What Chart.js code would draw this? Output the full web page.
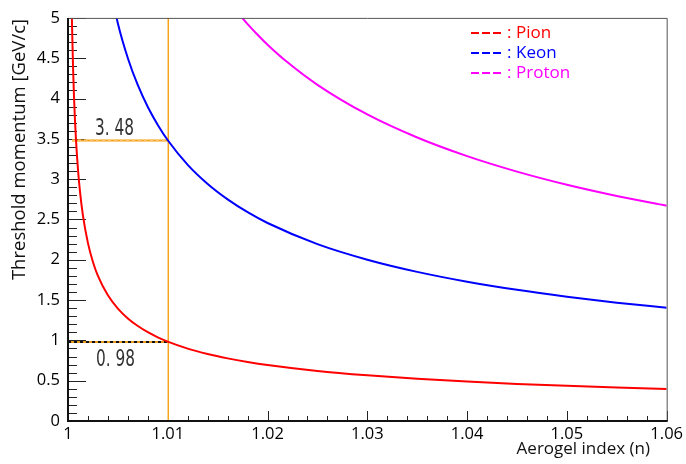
<!DOCTYPE html>
<html>
<head>
<meta charset="utf-8">
<script src="https://cdn.jsdelivr.net/npm/chart.js@4.4.1/dist/chart.umd.min.js"></script>
<style>
html,body{margin:0;padding:0;background:#fff;}
#wrap{width:686px;height:464px;}
</style>
</head>
<body>
<div id="wrap"><canvas id="c" width="686" height="464"></canvas></div>
<script>
// ---- data ----
const pionN = [1.0003,1.0004,1.0005,1.0006,1.0007,1.0008,1.001,1.0012,1.0015,1.002,1.0025,1.003,1.004,1.005,1.006,1.007,1.008,1.009,1.01,1.012,1.014,1.016,1.018,1.02,1.025,1.03,1.035,1.04,1.045,1.05,1.055,1.06];
const pionP = [5.697,4.934,4.413,4.028,3.730,3.489,3.120,2.848,2.547,2.206,1.973,1.800,1.559,1.394,1.272,1.178,1.101,1.038,0.985,0.898,0.831,0.777,0.732,0.694,0.620,0.566,0.523,0.489,0.460,0.436,0.415,0.397];
const keonN = [1.004,1.005,1.006,1.007,1.008,1.009,1.01,1.012,1.014,1.016,1.018,1.02,1.025,1.03,1.035,1.04,1.045,1.05,1.055,1.06];
const keonP = [5.514,4.931,4.500,4.165,3.895,3.672,3.482,3.177,2.940,2.749,2.590,2.456,2.194,2.001,1.850,1.728,1.627,1.542,1.468,1.404];
const protonN = [1.017,1.018,1.019,1.02,1.022,1.025,1.03,1.035,1.04,1.045,1.05,1.055,1.06];
const protonP = [5.067,4.923,4.791,4.668,4.449,4.170,3.802,3.516,3.285,3.093,2.930,2.791,2.669];
const seriesNames = ['Pion','Keon','Proton'];
const xTickLabels = ['1','1.01','1.02','1.03','1.04','1.05','1.06'];
const yTickLabels = ['0','0.5','1','1.5','2','2.5','3','3.5','4','4.5','5'];
const markerIndex = 1.01;
const markerValues = [3.48, 0.98];
const markerLabels = ['3. 48', '0. 98'];
const xTitle = 'Aerogel index (n)';
const yTitle = 'Threshold momentum [GeV/c]';

const colors = ['#ff0000','#0000ff','#ff00ff'];
const FONT = '"Open Sans", "Noto Sans", sans-serif';

function pts(nx, py){ return nx.map((v,i)=>({x:v, y:py[i]})); }

const decor = {
  id:'decor',
  beforeDatasetsDraw(chart){
    const {ctx, chartArea:a, scales:{x,y}} = chart;
    ctx.save();
    // inside ticks
    ctx.strokeStyle = '#222'; ctx.lineWidth = 1;
    for(let i=0;i<=50;i++){
      const py = Math.round(y.getPixelForValue(i/10)) + 0.5;
      const len = (i%5===0) ? 18 : 9;
      ctx.beginPath(); ctx.moveTo(a.left, py); ctx.lineTo(a.left+len, py); ctx.stroke();
    }
    for(let i=0;i<=30;i++){
      const px = Math.round(x.getPixelForValue(1 + i*0.002)) + 0.5;
      const len = (i%5===0) ? 10 : 5;
      ctx.beginPath(); ctx.moveTo(px, a.bottom); ctx.lineTo(px, a.bottom-len); ctx.stroke();
    }
    // orange guide lines
    const gx = x.getPixelForValue(markerIndex) + 0.5;
    ctx.strokeStyle = '#f7a21b';
    ctx.lineWidth = 1.5;
    ctx.beginPath(); ctx.moveTo(gx, a.top); ctx.lineTo(gx, a.bottom); ctx.stroke();
    ctx.lineWidth = 2;
    const y1 = y.getPixelForValue(markerValues[0]);
    ctx.beginPath(); ctx.moveTo(a.left+4, y1); ctx.lineTo(gx, y1); ctx.stroke();
    ctx.strokeStyle = '#fbc46a'; ctx.setLineDash([3,3]);
    ctx.beginPath(); ctx.moveTo(a.left+4, y1); ctx.lineTo(gx, y1); ctx.stroke();
    ctx.setLineDash([]);
    const y2 = y.getPixelForValue(markerValues[1]);
    ctx.strokeStyle = '#e89a20';
    ctx.beginPath(); ctx.moveTo(a.left, y2); ctx.lineTo(gx, y2); ctx.stroke();
    ctx.strokeStyle = '#111'; ctx.setLineDash([3,3]);
    ctx.beginPath(); ctx.moveTo(a.left, y2); ctx.lineTo(gx, y2); ctx.stroke();
    ctx.setLineDash([]);
    ctx.restore();
  },
  afterDatasetsDraw(chart){
    const {ctx, chartArea:a, scales:{x,y}} = chart;
    ctx.save();
    // frame
    ctx.strokeStyle = '#555'; ctx.lineWidth = 1;
    ctx.beginPath();
    ctx.moveTo(a.left, a.top+0.5); ctx.lineTo(a.right+0.5, a.top+0.5); ctx.lineTo(a.right+0.5, a.bottom);
    ctx.stroke();
    ctx.strokeStyle = '#111'; ctx.lineWidth = 2;
    ctx.beginPath();
    ctx.moveTo(a.left, a.top); ctx.lineTo(a.left, a.bottom); ctx.lineTo(a.right+1, a.bottom);
    ctx.stroke();
    // marker labels (narrow, tall digits)
    ctx.fillStyle = '#333';
    ctx.font = '23px "DejaVu Sans Condensed", "DejaVu Sans", sans-serif';
    ctx.textAlign = 'left'; ctx.textBaseline = 'alphabetic';
    const drawNarrow = (t, px, py) => {
      ctx.save(); ctx.translate(px, py); ctx.scale(0.74, 1); ctx.fillText(t, 0, 0); ctx.restore();
    };
    drawNarrow(markerLabels[0], a.left+27, y.getPixelForValue(markerValues[0]) - 5);
    drawNarrow(markerLabels[1], a.left+28, y.getPixelForValue(markerValues[1]) + 24);
    // legend
    ctx.font = '17px ' + FONT;
    ctx.textBaseline = 'middle';
    chart.data.datasets.forEach((ds, i) => {
      const ly = 33 + i*20;
      ctx.strokeStyle = ds.borderColor; ctx.lineWidth = 2; ctx.setLineDash([8,3]);
      ctx.beginPath(); ctx.moveTo(471, ly); ctx.lineTo(503, ly); ctx.stroke();
      ctx.setLineDash([]);
      ctx.fillStyle = ds.borderColor;
      ctx.fillText(':', 507, ly);
      ctx.fillText(ds.label, 516, ly);
    });
    // axis titles
    ctx.fillStyle = '#111';
    ctx.textAlign = 'right'; ctx.textBaseline = 'middle';
    ctx.font = '17px ' + FONT;
    ctx.fillText(xTitle, 650, 449);
    ctx.font = '18.5px ' + FONT;
    ctx.translate(20, a.top + 1);
    ctx.rotate(-Math.PI/2);
    ctx.fillText(yTitle, 0, 0);
    ctx.restore();
  }
};

new Chart(document.getElementById('c'), {
  type: 'scatter',
  data: {
    datasets: [
      {label: seriesNames[0], data: pts(pionN, pionP)},
      {label: seriesNames[1], data: pts(keonN, keonP)},
      {label: seriesNames[2], data: pts(protonN, protonP)}
    ].map((d,i)=>Object.assign(d, {
      showLine: true, borderColor: colors[i], backgroundColor: colors[i],
      borderWidth: 2, pointRadius: 0, pointHoverRadius: 0,
      cubicInterpolationMode: 'monotone', fill: false
    }))
  },
  options: {
    responsive: false,
    animation: false,
    events: [],
    layout: {padding: {top: 17, right: 15, left: 0, bottom: 0}},
    plugins: {legend: {display: false}, tooltip: {enabled: false}, title: {display: false}},
    scales: {
      x: {
        type: 'linear', min: 1, max: 1.06,
        grid: {display: false, drawTicks: false},
        border: {display: false},
        ticks: {
          stepSize: 0.01, padding: 3, color: '#000', maxRotation: 0,
          font: {family: FONT, size: 16.5},
          callback: (v) => { const k = Math.round((v-1)*100); return xTickLabels[k] ?? ''; }
        },
        afterFit: (s) => { s.height = 43; }
      },
      y: {
        type: 'linear', min: 0, max: 5,
        grid: {display: false, drawTicks: false},
        border: {display: false},
        ticks: {
          stepSize: 0.5, padding: 8, color: '#000',
          font: {family: FONT, size: 16.5},
          callback: (v) => { const k = Math.round(v*2); return yTickLabels[k] ?? ''; }
        },
        afterFit: (s) => { s.width = 68; }
      }
    }
  },
  plugins: [decor]
});
</script>
</body>
</html>
